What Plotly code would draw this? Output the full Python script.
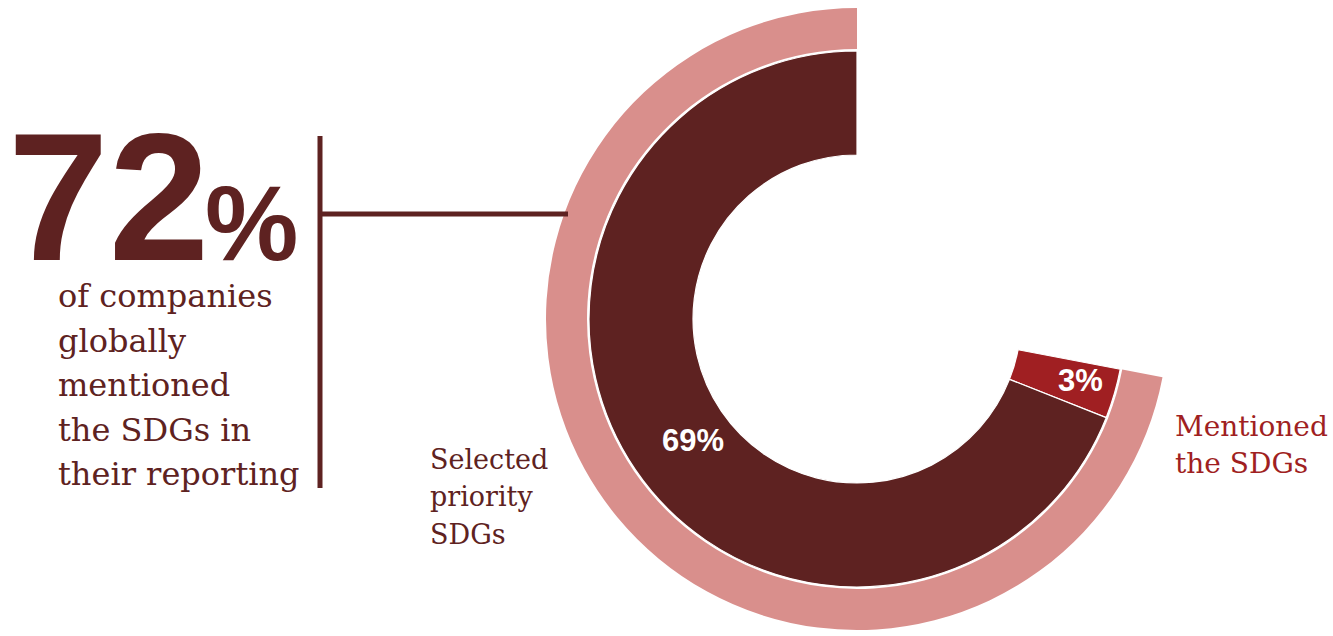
import plotly.graph_objects as go

W, H = 1333, 636

# Data (listed clockwise from 12 o'clock)
outer_labels = ["Other", "Mentioned the SDGs"]
outer_values = [28, 72]
inner_labels = ["Other", "Mentioned only", "Selected priority SDGs"]
inner_values = [28, 3, 69]
inner_text = ["", "3%", "69%"]
headline_number = "72"
headline_lines = ["of companies", "globally", "mentioned", "the SDGs in", "their reporting"]
left_label_lines = ["Selected", "priority", "SDGs"]
right_label_lines = ["Mentioned", "the SDGs"]

DARK = "#5E2221"
PINK = "#D98F8C"
RED = "#A01F22"
NONE = "rgba(0,0,0,0)"

cx, cy = 857, 319
R_OUT, R_GAP, R_MID, R_HOLE = 311, 270, 268, 164


def dom(r):
    return dict(x=[(cx - r) / W, (cx + r) / W],
                y=[(H - cy - r) / H, (H - cy + r) / H])


def px(x):
    return x / W


def py(y):
    return 1 - y / H


fig = go.Figure()
fig.add_trace(go.Pie(
    labels=outer_labels, values=outer_values, sort=False,
    direction="clockwise", rotation=0,
    hole=R_GAP / R_OUT, domain=dom(R_OUT),
    marker=dict(colors=[NONE, PINK], line=dict(width=0)),
    textinfo="none", hoverinfo="label+value", showlegend=False,
))
fig.add_trace(go.Pie(
    labels=inner_labels, values=inner_values, sort=False,
    direction="clockwise", rotation=0,
    hole=R_HOLE / R_MID, domain=dom(R_MID),
    marker=dict(colors=[NONE, RED, DARK],
                line=dict(width=[0, 1.2, 1.2], color="white")),
    textinfo="none", hoverinfo="label+value", showlegend=False,
))

shapes = [
    dict(type="line", xref="paper", yref="paper", x0=px(320), x1=px(320),
         y0=py(136), y1=py(488), line=dict(color=DARK, width=5)),
    dict(type="line", xref="paper", yref="paper", x0=px(320), x1=px(568),
         y0=py(214), y1=py(214), line=dict(color=DARK, width=5)),
]

SERIF = "DejaVu Serif"
SANS = "Liberation Sans"

annotations = [
    dict(text="<b>" + headline_number + "</b>", x=px(6), y=py(197), xanchor="left",
         yanchor="middle", font=dict(family=SANS, size=181, color=DARK)),
    dict(text="<b>%</b>", x=px(203), y=py(223), xanchor="left", yanchor="middle",
         font=dict(family=SANS, size=105, color=DARK)),
    dict(text="<b>" + inner_text[2] + "</b>", x=px(693), y=py(440),
         xanchor="center", yanchor="middle",
         font=dict(family=SANS, size=31, color="white")),
    dict(text="<b>" + inner_text[1] + "</b>", x=px(1080), y=py(380),
         xanchor="center", yanchor="middle",
         font=dict(family=SANS, size=31, color="white")),
]
for i, line in enumerate(headline_lines):
    annotations.append(dict(text=line, x=px(56), y=py(296 + 44.5 * i),
                            xanchor="left", yanchor="middle",
                            font=dict(family=SERIF, size=32, color=DARK)))
for i, line in enumerate(left_label_lines):
    annotations.append(dict(text=line, x=px(428), y=py(459 + 37.5 * i),
                            xanchor="left", yanchor="middle",
                            font=dict(family=SERIF, size=27, color=DARK)))
for i, line in enumerate(right_label_lines):
    annotations.append(dict(text=line, x=px(1173), y=py(426 + 38 * i),
                            xanchor="left", yanchor="middle",
                            font=dict(family=SERIF, size=28, color=RED)))
for a in annotations:
    a.update(xref="paper", yref="paper", showarrow=False)

fig.update_layout(
    width=W, height=H, margin=dict(l=0, r=0, t=0, b=0),
    paper_bgcolor="white", plot_bgcolor="white",
    shapes=shapes, annotations=annotations,
)
fig.write_html("out.html")
